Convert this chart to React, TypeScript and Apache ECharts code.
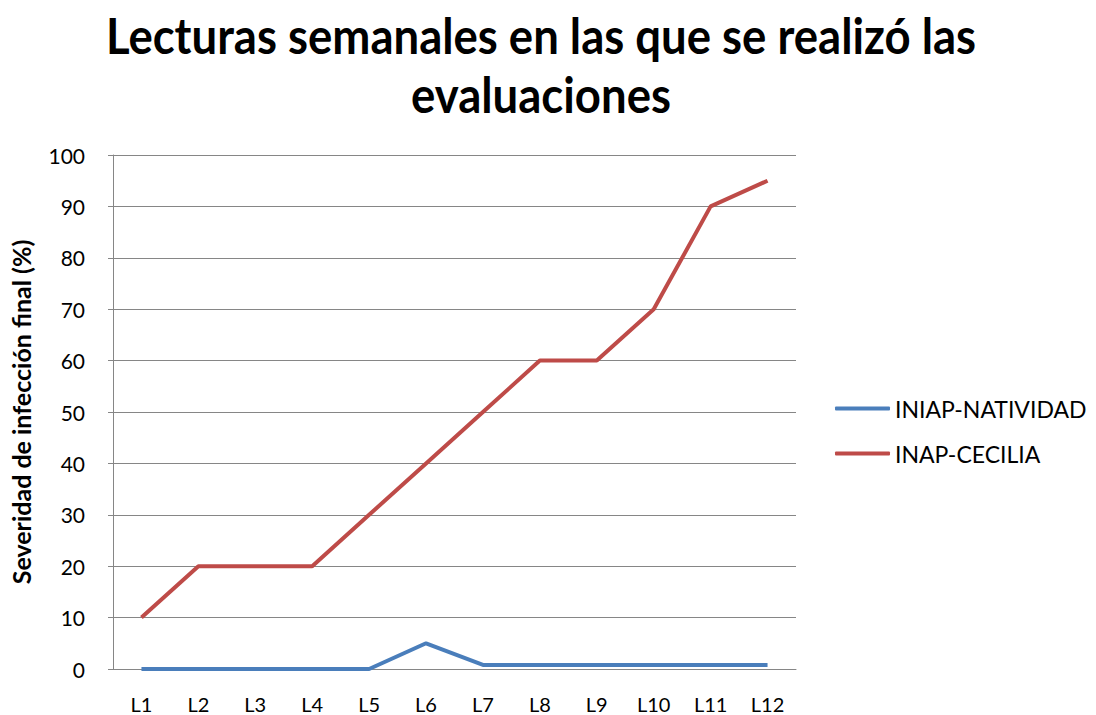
import React, { useEffect, useRef } from "react";
import * as echarts from "echarts";

const categories = ["L1", "L2", "L3", "L4", "L5", "L6", "L7", "L8", "L9", "L10", "L11", "L12"];
const nativida = [0, 0, 0, 0, 0, 5, 0.8, 0.8, 0.8, 0.8, 0.8, 0.8];
const cecilia = [10, 20, 20, 20, 30, 40, 50, 60, 60, 70, 90, 95];
const seriesNames = ["INIAP-NATIVIDAD", "INAP-CECILIA"];
const titleLines = ["Lecturas semanales en las que se realizó las", "evaluaciones"];
const yName = "Severidad de infección final (%)";

const FONT = "Lato, 'Noto Sans', sans-serif";

export default function App() {
  const ref = useRef<HTMLDivElement>(null);
  useEffect(() => {
    document.body.style.margin = "0";
    const chart = echarts.init(ref.current!, null, { renderer: "svg" });
    chart.setOption({
      animation: false,
      backgroundColor: "#ffffff",
      textStyle: { fontFamily: FONT },
      graphic: [
        {
          type: "text",
          x: 541,
          y: 35,
          scaleY: 1.08,
          style: {
            text: titleLines[0],
            fontFamily: FONT,
            fontWeight: "bold",
            fontSize: 45.5,
            fill: "#000",
            align: "center",
            verticalAlign: "middle",
          },
        },
        {
          type: "text",
          x: 541,
          y: 94,
          scaleY: 1.08,
          style: {
            text: titleLines[1],
            fontFamily: FONT,
            fontWeight: "bold",
            fontSize: 45.5,
            fill: "#000",
            align: "center",
            verticalAlign: "middle",
          },
        },
      ],
      grid: { left: 112, right: 300, top: 155, bottom: 46, containLabel: false },
      legend: {
        orient: "vertical",
        left: 830,
        top: 392,
        itemWidth: 55,
        itemHeight: 4,
        itemGap: 22,
        textStyle: { fontSize: 23, color: "#000", fontFamily: FONT },
        data: seriesNames.map((n) => ({ name: n, icon: "roundRect" })),
      },
      xAxis: {
        type: "category",
        data: categories,
        boundaryGap: true,
        axisLine: { show: true, lineStyle: { color: "#868686", width: 1 } },
        axisTick: { show: false },
        axisLabel: { color: "#000", fontSize: 20, margin: 25, fontFamily: FONT },
      },
      yAxis: {
        type: "value",
        min: 0,
        max: 100,
        interval: 10,
        name: yName,
        nameLocation: "middle",
        nameGap: 80,
        nameRotate: 90,
        nameTextStyle: { fontSize: 25, fontWeight: "bold", color: "#000", fontFamily: FONT },
        axisLine: { show: true, lineStyle: { color: "#868686", width: 1 } },
        axisTick: { show: true, length: 5, lineStyle: { color: "#868686" } },
        axisLabel: { color: "#000", fontSize: 21, margin: 28, fontFamily: FONT },
        splitLine: { show: true, lineStyle: { color: "#868686", width: 1 } },
      },
      series: [
        {
          name: seriesNames[0],
          type: "line",
          data: nativida,
          symbol: "none",
          lineStyle: { color: "#4a7ebb", width: 4 },
          itemStyle: { color: "#4a7ebb" },
        },
        {
          name: seriesNames[1],
          type: "line",
          data: cecilia,
          symbol: "none",
          lineStyle: { color: "#be4b48", width: 4 },
          itemStyle: { color: "#be4b48" },
        },
      ],
    });
    return () => chart.dispose();
  }, []);
  return <div ref={ref} style={{ width: 1096, height: 715 }} />;
}
